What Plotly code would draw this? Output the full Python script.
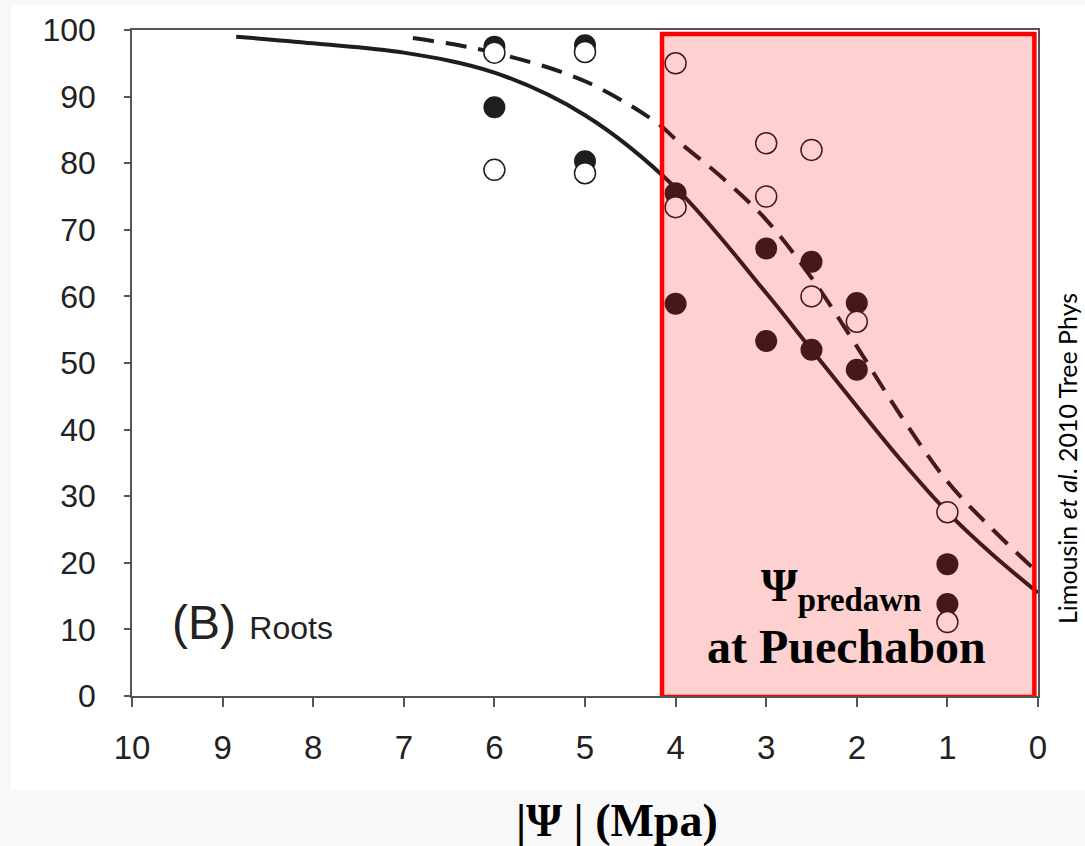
import plotly.graph_objects as go

# ---- data ----
filled_x = [6, 6, 5, 5, 4, 4, 3, 3, 2.5, 2.5, 2, 2, 1, 1]
filled_y = [97.5, 88.4, 97.7, 80.3, 75.5, 58.9, 67.2, 53.3, 65.2, 52.0, 59.0, 49.0, 19.8, 13.8]

open_x = [6, 6, 5, 5, 4, 4, 3, 3, 2.5, 2.5, 2, 1, 1]
open_y = [96.6, 79.0, 96.7, 78.5, 95.0, 73.4, 83.0, 75.0, 82.0, 60.0, 56.2, 27.6, 11.1]

solid_x = [8.85, 8, 7, 6, 5, 4, 3, 2.5, 2, 1.5, 1, 0.5, 0]
solid_y = [99.0, 98.0, 96.6, 93.6, 87.2, 76.3, 60.5, 52.0, 43.5, 35.2, 27.6, 21.2, 15.5]

dash_x = [6.9, 6, 5, 4.2, 4, 3.5, 3, 2.5, 2, 1.5, 1, 0.5, 0]
dash_y = [98.8, 96.6, 92.3, 86.0, 83.6, 78.0, 71.5, 62.8, 52.5, 41.8, 32.2, 25.0, 18.5]

x_ticks = [10, 9, 8, 7, 6, 5, 4, 3, 2, 1, 0]
y_ticks = [0, 10, 20, 30, 40, 50, 60, 70, 80, 90, 100]

# red region (predawn water potential range at Puechabon)
region_x = [4.15, 0.04]
region_y = [-0.15, 99.4]

W, H = 1085, 846
L, R, T, B = 132, 47, 30, 150
pw, ph = W - L - R, H - T - B


def px(xp):
    return (xp - L) / pw


def py(yp):
    return (H - B - yp) / ph


dark = "#1e1e1e"

fig = go.Figure()
fig.add_trace(go.Scatter(x=solid_x, y=solid_y, mode="lines", line=dict(color=dark, width=4, shape="spline"),
                         showlegend=False, hoverinfo="skip"))
fig.add_trace(go.Scatter(x=dash_x, y=dash_y, mode="lines",
                         line=dict(color=dark, width=4, shape="spline", dash="21px,12px"),
                         showlegend=False, hoverinfo="skip"))
fig.add_trace(go.Scatter(x=filled_x, y=filled_y, mode="markers",
                         marker=dict(size=22, color=dark, line=dict(width=0)), showlegend=False))
fig.add_trace(go.Scatter(x=open_x, y=open_y, mode="markers",
                         marker=dict(size=21, color="white", line=dict(width=1.5, color=dark)), showlegend=False))

shapes = [
    # white panel
    dict(type="rect", xref="paper", yref="paper", x0=px(11), x1=px(1090), y0=py(790), y1=py(5),
         fillcolor="white", line=dict(width=0), layer="below"),
    # red highlighted region
    dict(type="rect", xref="x", yref="y", x0=region_x[0], x1=region_x[1], y0=region_y[0], y1=region_y[1],
         fillcolor="rgba(255,0,0,0.185)", line=dict(color="#ff0000", width=4.5), layer="above"),
]

annotations = [
    dict(x=9.58, y=11.0, xref="x", yref="y", xanchor="left", yanchor="middle", showarrow=False,
         text="(B) <span style='font-size:32px'>Roots</span>",
         font=dict(family="Liberation Sans, Arial", size=48, color="#222")),
    dict(x=2.17, y=16.2, xref="x", yref="y", xanchor="center", yanchor="middle", showarrow=False,
         text="<b>Ψ<sub>predawn</sub></b>",
         font=dict(family="Liberation Serif, Times New Roman", size=47, color="black")),
    dict(x=2.11, y=7.5, xref="x", yref="y", xanchor="center", yanchor="middle", showarrow=False,
         text="<b>at Puechabon</b>",
         font=dict(family="Liberation Serif, Times New Roman", size=48, color="black")),
    dict(x=px(1067), y=py(459), xref="paper", yref="paper", xanchor="center", yanchor="middle",
         showarrow=False, textangle=-90,
         text="Limousin <i>et al</i>. 2010 Tree Phys",
         font=dict(family="Lato, Open Sans", size=25, color="black")),
    dict(x=px(617), y=py(820), xref="paper", yref="paper", xanchor="center", yanchor="middle",
         showarrow=False, text="<b>|Ψ | (Mpa)</b>",
         font=dict(family="Liberation Serif, Times New Roman", size=46, color="black")),
]

fig.update_layout(
    width=W, height=H,
    margin=dict(l=L, r=R, t=T, b=B, pad=0),
    paper_bgcolor="#f8f8f8",
    plot_bgcolor="white",
    shapes=shapes,
    annotations=annotations,
    showlegend=False,
    xaxis=dict(range=[10, 0], tickvals=x_ticks, ticktext=[str(v) for v in x_ticks],
               showgrid=False, zeroline=False, showline=True, linecolor="#555", linewidth=1.5,
               mirror=True, ticks="outside", ticklen=9, tickcolor="#555", tickwidth=1.5,
               ticklabelstandoff=13,
               tickfont=dict(family="Liberation Sans, Arial", size=33, color="#222")),
    yaxis=dict(range=[0, 100], tickvals=y_ticks,
               showgrid=False, zeroline=False, showline=True, linecolor="#555", linewidth=1.5,
               mirror=True, ticks="outside", ticklen=6, tickcolor="#555", tickwidth=1.5,
               ticklabelstandoff=22,
               tickfont=dict(family="Liberation Sans, Arial", size=32, color="#222")),
)

fig.write_html("out.html", config={"displayModeBar": False},
               post_script="document.body.style.margin='0';document.body.style.overflow='hidden';")
